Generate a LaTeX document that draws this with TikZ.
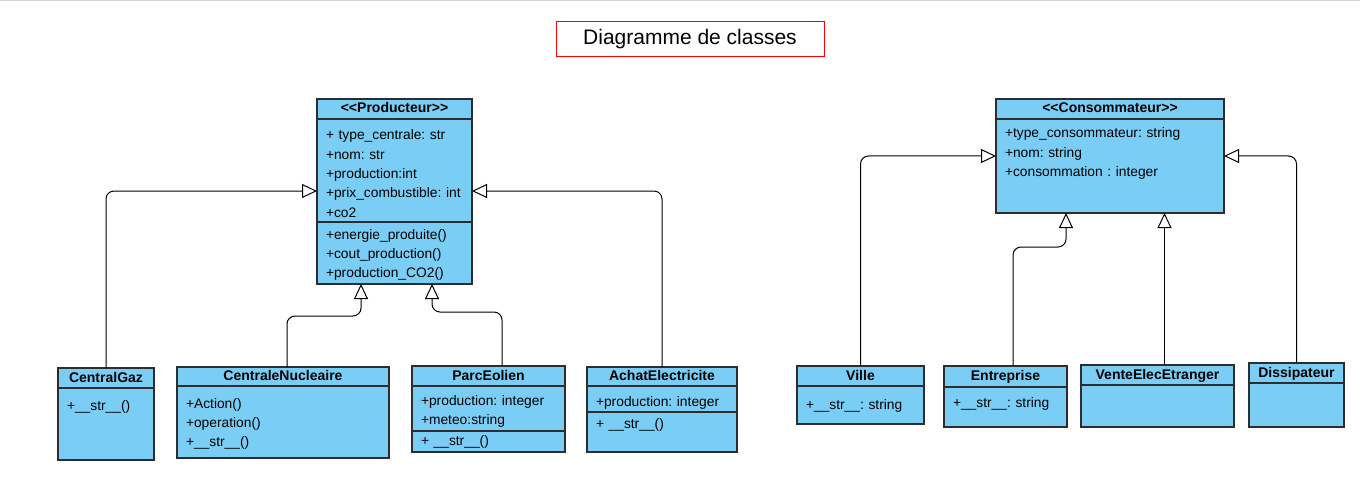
\documentclass[tikz,border=0pt]{standalone}
\usepackage{fontspec}
\setmainfont{Liberation Sans}
\usetikzlibrary{arrows.meta, positioning}
\definecolor{clsblue}{RGB}{122,206,245}
\definecolor{clsline}{RGB}{45,45,45}
\frenchspacing

\begin{document}
\begin{tikzpicture}[x=1pt, y=-1pt, node distance=0pt,
  head/.style={draw=clsline, line width=1.3pt, fill=clsblue, inner sep=0pt, outer sep=0pt, anchor=north west, font=\fontsize{14}{17}\selectfont\bfseries, text height=10.5pt, text depth=2.5pt},
  body/.style={draw=clsline, line width=1.3pt, fill=clsblue, inner xsep=9pt, inner ysep=0pt, outer sep=0pt, align=left, font=\fontsize{13.8}{19.3}\selectfont},
  gen/.style={line width=1pt, rounded corners=8pt, -{Triangle[open, length=15pt, width=14pt, fill=white]}}]
\useasboundingbox (0,0) rectangle (1360,492);
\draw[black!15, line width=1pt] (0,0.5) -- (1360,0.5);

% title
\node[draw=red, line width=1pt, minimum width=268pt, minimum height=35pt, inner sep=0pt, font=\fontsize{21}{25}\selectfont] (title) at (690,39.5) {Diagramme de classes\hspace{7pt}};

% Producteur
\node[head, minimum width=155pt, minimum height=20pt] (prodH) at (317,99) {<{}<Producteur>{}>};
\node[body, text width=137pt, text height=21pt, text depth=82pt, below=of prodH] (prodA) {+ type\_centrale: str\\+nom: str\\+production:int\\+prix\_combustible: int\\+co2};
\node[body, text width=137pt, text height=17pt, text depth=45pt, below=of prodA] (prodM) {+energie\_produite()\\+cout\_production()\\+production\_CO2()};

% Consommateur
\node[head, minimum width=228pt, minimum height=20pt] (consH) at (996,99) {<{}<Consommateur>{}>};
\node[body, text width=210pt, text height=19pt, text depth=75pt, below=of consH] (consB) {+type\_consommateur: string\\+nom: string\\+consommation : integer};

% producteurs
\node[head, minimum width=96pt, minimum height=20pt] (gazH) at (58,368) {CentralGaz};
\node[body, text width=78pt, text height=22pt, text depth=50pt, below=of gazH] (gazB) {+\_\_str\_\_()};

\node[head, minimum width=212pt, minimum height=19pt] (nucH) at (177,367) {CentraleNucleaire};
\node[body, text width=194pt, text height=22pt, text depth=50pt, below=of nucH] (nucB) {+Action()\\+operation()\\+\_\_str\_\_()};

\node[head, minimum width=153pt, minimum height=20pt] (parcH) at (412,366) {ParcEolien};
\node[body, text width=135pt, text height=19pt, text depth=26pt, below=of parcH] (parcA) {+production: integer\\+meteo:string};
\node[body, text width=135pt, text height=14pt, text depth=7pt, below=of parcA] (parcM) {+ \_\_str\_\_()};

\node[head, minimum width=150pt, minimum height=19pt] (achH) at (587,367) {AchatElectricite};
\node[body, text width=132pt, text height=20pt, text depth=6pt, below=of achH] (achA) {+production: integer};
\node[body, text width=132pt, text height=16pt, text depth=24pt, below=of achA] (achM) {+ \_\_str\_\_()};

% consommateurs
\node[head, minimum width=127pt, minimum height=20pt] (villeH) at (797,366) {Ville};
\node[body, text width=109pt, text height=23pt, text depth=15pt, below=of villeH] (villeB) {+\_\_str\_\_: string};

\node[head, minimum width=123pt, minimum height=21pt] (entH) at (944,366) {Entreprise};
\node[body, text width=105pt, text height=20pt, text depth=20pt, below=of entH] (entB) {+\_\_str\_\_: string};

\node[head, minimum width=153pt, minimum height=20pt] (venteH) at (1081,365) {VenteElecEtranger};
\node[body, text width=135pt, text height=42pt, text depth=0pt, below=of venteH] (venteB) {};

\node[head, minimum width=95pt, minimum height=20pt] (dissH) at (1249,363) {Dissipateur};
\node[body, text width=77pt, text height=44pt, text depth=0pt, below=of dissH] (dissB) {};

% generalisations
\draw[gen] (gazH.north) |- ([yshift=-20.5pt]prodA.west);
\draw[gen] ([xshift=4pt]nucH.north) -- ++(0,-51) -| ([xshift=44pt]prodM.south west);
\draw[gen] ([xshift=13.5pt]parcH.north) -- ++(0,-54) -| ([xshift=115pt]prodM.south west);
\draw[gen] (achH.north) |- ([yshift=-20.5pt]prodA.east);
\draw[gen] (villeH.north) |- ([yshift=10pt]consB.west);
\draw[gen] ([xshift=7.5pt]entH.north) -- ++(0,-119) -| ([xshift=70pt]consB.south west);
\draw[gen] ([xshift=7pt]venteH.north) -- ([xshift=168.5pt]consB.south west);
\draw[gen] (dissH.north) |- ([yshift=10pt]consB.east);
\end{tikzpicture}
\end{document}
